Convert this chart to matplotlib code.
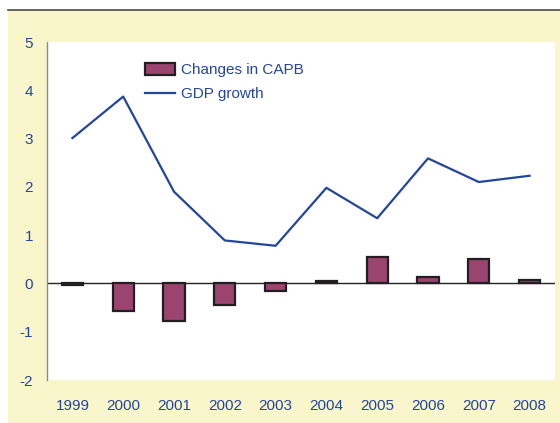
import matplotlib.pyplot as plt
from matplotlib.patches import Rectangle
from matplotlib.lines import Line2D

plt.rcParams['font.family'] = ['Liberation Sans', 'DejaVu Sans']
plt.rcParams['axes.unicode_minus'] = False

years = ['1999', '2000', '2001', '2002', '2003', '2004', '2005', '2006', '2007', '2008']
capb_change = [-0.03, -0.58, -0.78, -0.45, -0.16, 0.04, 0.55, 0.14, 0.51, 0.08]
gdp_growth = [3.01, 3.87, 1.90, 0.89, 0.78, 1.98, 1.35, 2.59, 2.10, 2.23]

W, H = 560, 423
fig = plt.figure(figsize=(W / 100, H / 100), dpi=100)
fig.patch.set_facecolor('white')

# pale yellow frame with a dark top rule (drawn beneath the axes)
fig.patches.append(Rectangle((8 / W, 0), 1 - 8 / W, 1 - 10 / H, transform=fig.transFigure,
                             facecolor='#FAF6CC', edgecolor='none', zorder=-10))
fig.lines.append(Line2D([8 / W, 1], [1 - 10 / H, 1 - 10 / H], transform=fig.transFigure,
                        color='#4a4a4a', lw=1.2, zorder=-9))

ax = fig.add_axes([47 / W, 1 - 380 / H, (555 - 47) / W, (380 - 42) / H])
ax.set_facecolor('white')
ax.set_zorder(1)

blue = '#23459C'
x = range(len(years))
bars = ax.bar(x, capb_change, width=0.42, color='#9B4470', edgecolor='#231F20', linewidth=1.6,
              label='Changes in CAPB', zorder=2)
line, = ax.plot(x, gdp_growth, color=blue, lw=1.6, label='GDP growth', zorder=3)
ax.axhline(0, color='#222222', lw=1.0, zorder=1)

ax.set_xlim(-0.5, len(years) - 0.5)
ax.set_ylim(-2, 5)
ax.set_yticks(range(-2, 6))
ax.set_xticks(list(x))
ax.set_xticklabels(years)
ax.tick_params(axis='both', length=0, labelsize=11, labelcolor=blue)
ax.tick_params(axis='y', pad=10)
ax.tick_params(axis='x', pad=14)

for s in ['top', 'right', 'bottom']:
    ax.spines[s].set_visible(False)
ax.spines['left'].set_color('#8a8a8a')
ax.spines['left'].set_linewidth(1.0)

leg = ax.legend([bars, line], ['Changes in CAPB', 'GDP growth'], loc='upper left',
                bbox_to_anchor=(0.165, 0.98), frameon=False, fontsize=11,
                handlelength=2.0, handleheight=0.85, handletextpad=0.4, labelspacing=0.65)
for t in leg.get_texts():
    t.set_color(blue)

fig.savefig('out.png', dpi=100, facecolor=fig.get_facecolor())
